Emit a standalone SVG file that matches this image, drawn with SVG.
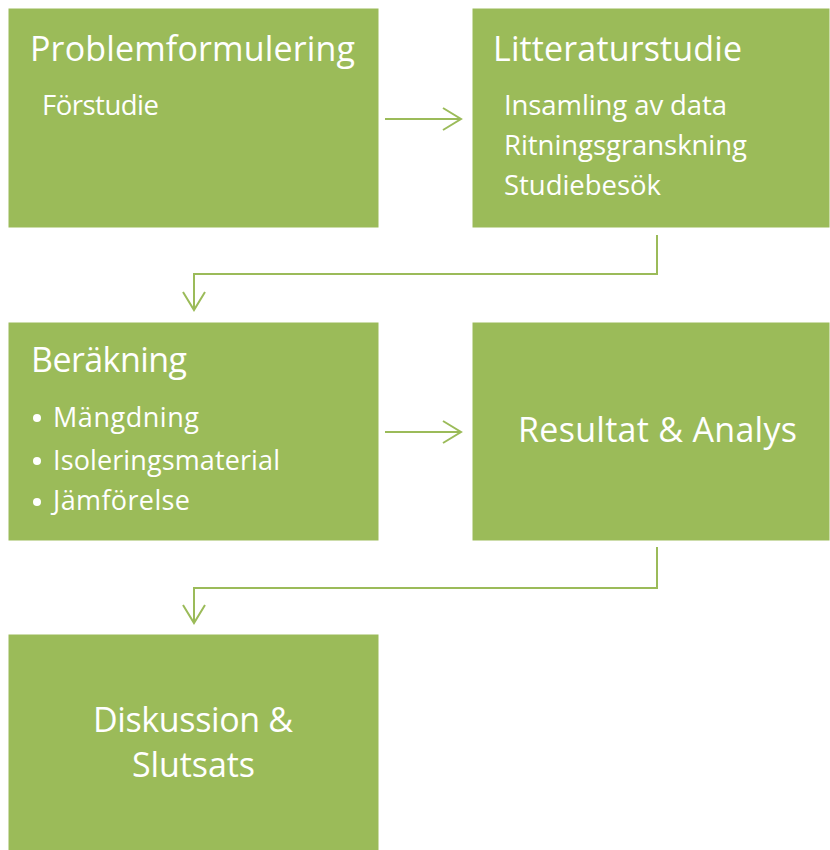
<svg xmlns="http://www.w3.org/2000/svg" width="830" height="850" viewBox="0 0 830 850">
<style>
.box{fill:#9BBB59;stroke:#ffffff;stroke-width:1}
.t{fill:#ffffff;font-family:"Open Sans","Liberation Sans",sans-serif}
.h{font-size:34px}
.s{font-size:27.5px}
.b{font-size:27px}
.c{fill:none;stroke:#9BBB59;stroke-width:2}
</style>
<rect width="830" height="850" fill="#ffffff"/>
<g id="connectors">
<line class="c" x1="385" y1="119" x2="461" y2="119"/>
<polyline class="c" points="443,108 461,119 443,130"/>
<line class="c" x1="385" y1="432" x2="461" y2="432"/>
<polyline class="c" points="443,421 461,432 443,443"/>
<polyline class="c" points="657,235 657,274 194,274 194,309"/>
<polyline class="c" points="183,292 194,310 205,292"/>
<polyline class="c" points="657,547 657,588 194,588 194,622"/>
<polyline class="c" points="183,605 194,623 205,605"/>
</g>
<g id="problemformulering">
<rect class="box" x="8" y="8" width="371" height="220"/>
<text class="t h" x="30" y="61" textLength="325">Problemformulering</text>
<text class="t s" x="42" y="115" textLength="117">Förstudie</text>
</g>
<g id="litteraturstudie">
<rect class="box" x="472" y="8" width="358" height="220"/>
<text class="t h" x="493" y="61" textLength="249">Litteraturstudie</text>
<text class="t s" x="504" y="115" textLength="223">Insamling av data</text>
<text class="t s" x="504" y="155" textLength="243">Ritningsgranskning</text>
<text class="t s" x="504" y="195" textLength="157">Studiebesök</text>
</g>
<g id="berakning">
<rect class="box" x="8" y="322" width="371" height="219"/>
<text class="t h" x="31" y="372" textLength="156">Beräkning</text>
<circle cx="37" cy="418" r="4" fill="#ffffff"/>
<circle cx="37" cy="461" r="4" fill="#ffffff"/>
<circle cx="37" cy="502" r="4" fill="#ffffff"/>
<text class="t b" x="53" y="427" textLength="146">Mängdning</text>
<text class="t b" x="53" y="470" textLength="227">Isoleringsmaterial</text>
<text class="t b" x="53" y="510" textLength="137">Jämförelse</text>
</g>
<g id="resultat">
<rect class="box" x="472" y="322" width="358" height="219"/>
<text class="t h" x="518" y="442" textLength="279">Resultat &amp; Analys</text>
</g>
<g id="diskussion">
<rect class="box" x="8" y="634" width="371" height="220"/>
<text class="t h" x="93" y="732" textLength="200">Diskussion &amp;</text>
<text class="t h" x="132" y="777" textLength="123">Slutsats</text>
</g>
</svg>
